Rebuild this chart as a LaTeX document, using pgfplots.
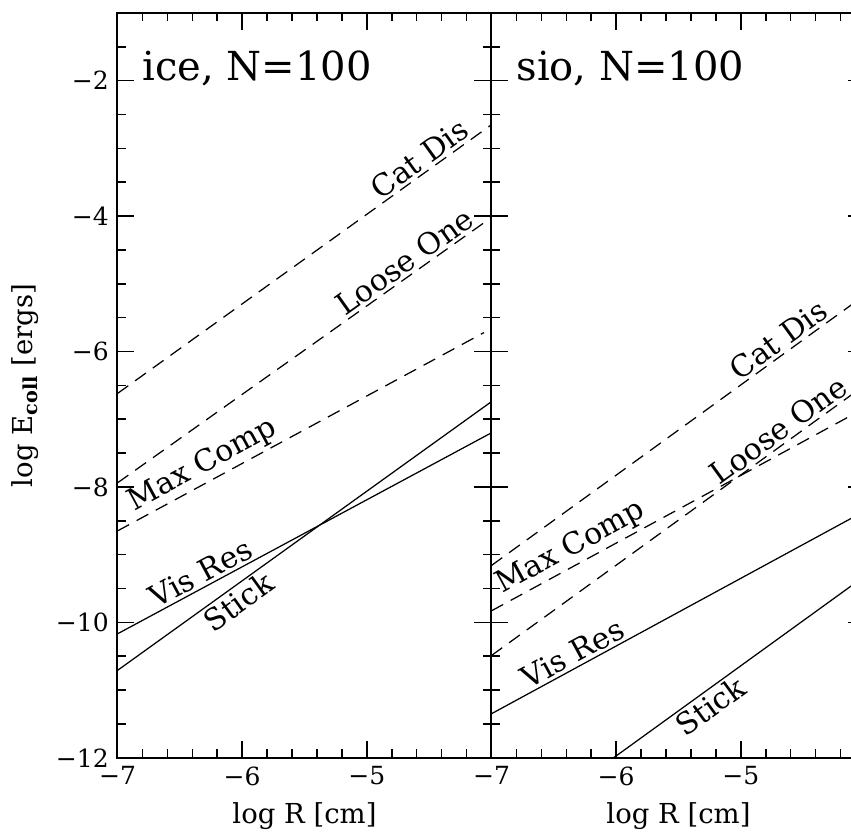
\documentclass[border=0pt]{standalone}
\usepackage{fontspec}
\setmainfont{DejaVu Serif}
\usepackage{pgfplots}
\pgfplotsset{compat=1.18}

\pgfplotsset{
  panel/.style={
    scale only axis,
    width=149.6pt, height=297.9pt,
    xmin=-7, xmax=-4, ymin=-12, ymax=-1,
    xtick={-7,-6,-5}, xticklabels={−7,−6,−5},
    minor xtick={-6.8,-6.6,-6.4,-6.2,-5.8,-5.6,-5.4,-5.2,-4.8,-4.6,-4.4,-4.2},
    ytick={-12,-10,-8,-6,-4,-2},
    minor ytick={-11.5,-11,-10.5,-9.5,-9,-8.5,-7.5,-7,-6.5,-5.5,-5,-4.5,-3.5,-3,-2.5,-1.5,-1},
    tick align=inside, tick pos=both,
    major tick length=6.8pt, minor tick length=3.3pt,
    axis line style={line width=0.8pt},
    every tick/.style={black, line width=0.6pt},
    tick label style={font=\fontsize{10}{12}\selectfont},
    label style={font=\fontsize{11}{13}\selectfont},
    xlabel={log R [cm]},
    clip=true,
  },
  dsh/.style={black, line width=0.5pt, dash pattern=on 5.3pt off 3.4pt},
  sld/.style={black, line width=0.5pt},
}
\tikzset{lbl/.style={sloped, inner sep=1pt, font=\fontsize{12}{14}\selectfont}}

\begin{document}
\begin{tikzpicture}
  % ice
  \begin{axis}[panel, name=ice, at={(0,0)}, anchor=south west,
      yticklabels={−12,−10,−8,−6,−4,−2},
      ylabel={log E\textsubscript{\bfseries coll} [ergs]}]
    \addplot[dsh] coordinates {(-7,-6.62) (-4,-2.65)} node[lbl, pos=0.83, above] {Cat Dis};
    \addplot[dsh] coordinates {(-7,-7.94) (-4,-4.02)} node[lbl, pos=0.79, above] {Loose One};
    \addplot[dsh] coordinates {(-7,-8.65) (-4.06,-5.72)} node[lbl, pos=0.255, above] {Max Comp};
    \addplot[sld] coordinates {(-7,-10.17) (-4,-7.2)} node[lbl, pos=0.24, above] {Vis Res};
    \addplot[sld] coordinates {(-7,-10.71) (-4,-6.74)} node[lbl, pos=0.3, below] {Stick};
    \node[anchor=base west, font=\fontsize{16}{19}\selectfont] at (axis cs:-6.87,-2) {ice, N=100};
  \end{axis}
  % sio
  \begin{axis}[panel, name=sio, at={(ice.south east)}, anchor=south west,
      yticklabel=\empty]
    \addplot[dsh] coordinates {(-7,-9.16) (-4,-5.16)} node[lbl, pos=0.79, above] {Cat Dis};
    \addplot[dsh] coordinates {(-7,-9.83) (-4,-6.83)} node[lbl, pos=0.235, above] {Max Comp};
    \addplot[dsh] coordinates {(-7,-10.49) (-4,-6.49)} node[lbl, pos=0.79, above] {Loose One};
    \addplot[sld] coordinates {(-7,-11.35) (-4,-8.35)} node[lbl, pos=0.235, above] {Vis Res};
    \addplot[sld] coordinates {(-6.02,-12) (-4,-9.31)} node[lbl, pos=0.35, below] {Stick};
    \node[anchor=base west, font=\fontsize{16}{19}\selectfont] at (axis cs:-6.87,-2) {sio, N=100};
  \end{axis}
  \pgfresetboundingbox
  \path[use as bounding box] (-47pt,-30.8pt) rectangle (293.4pt,303.1pt);
\end{tikzpicture}
\end{document}
